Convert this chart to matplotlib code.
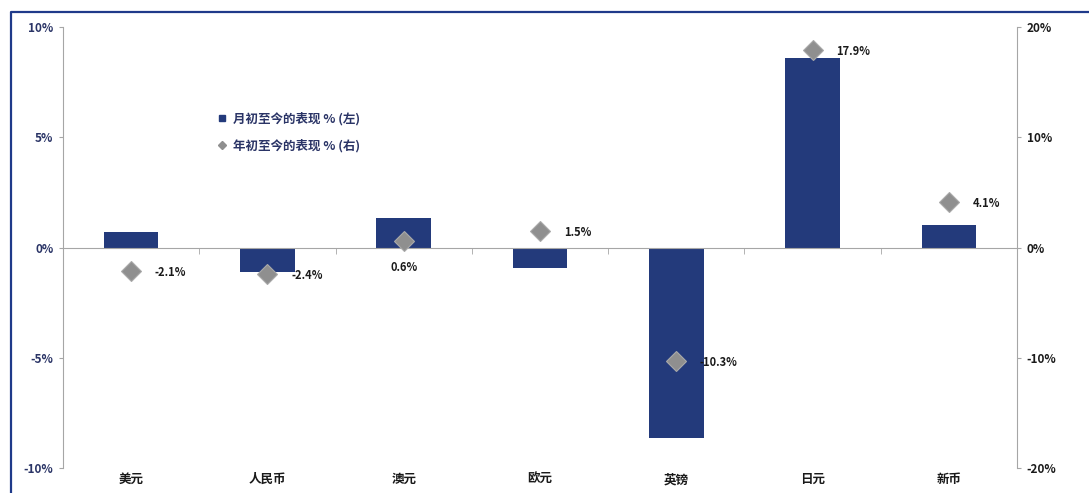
import numpy as np
import matplotlib.pyplot as plt
from matplotlib.lines import Line2D

plt.rcParams['font.family'] = ['Noto Sans CJK SC', 'DejaVu Sans']

# 货币表现数据
currencies = ['美元', '人民币', '澳元', '欧元', '英镑', '日元', '新币']
mtd = [0.7, -1.1, 1.35, -0.95, -8.65, 8.6, 1.0]      # 月初至今 (%)，左轴
ytd = [-2.1, -2.4, 0.6, 1.5, -10.3, 17.9, 4.1]       # 年初至今 (%)，右轴
ytd_labels = ['-2.1%', '-2.4%', '0.6%', '1.5%', '-10.3%', '17.9%', '4.1%']

navy = '#233a7b'
grey = '#8f8f8f'
axis_grey = '#a6a6a6'

fig = plt.figure(figsize=(10.89, 4.93), dpi=100)
ax = fig.add_axes([0.0579, 0.0507, 0.876, 0.8945])
ax2 = ax.twinx()

x = np.arange(len(currencies))
ax.bar(x, mtd, width=0.4, color=navy, zorder=2)
ax.set_xlim(-0.5, len(currencies) - 0.5)
ax.set_ylim(-10, 10)
ax.set_yticks([-10, -5, 0, 5, 10])
ax.set_yticklabels(['%d%%' % v for v in [-10, -5, 0, 5, 10]])

ax2.set_ylim(-20, 20)
ax2.set_yticks([-20, -10, 0, 10, 20])
ax2.set_yticklabels(['%d%%' % v for v in [-20, -10, 0, 10, 20]])
ax2.plot(x, ytd, linestyle='none', marker='D', markersize=10.5,
         markerfacecolor=grey, markeredgecolor='#a9a9a9', markeredgewidth=0.8, zorder=3)

# 数值标签：澳元放在菱形下方，其余放在右侧
for i, (v, s) in enumerate(zip(ytd, ytd_labels)):
    if currencies[i] == '澳元':
        ax2.annotate(s, (i, v), xytext=(0, -19), textcoords='offset points',
                     ha='center', va='center', fontsize=8, fontweight='bold', color='#1a1a1a')
    else:
        ax2.annotate(s, (i, v), xytext=(17, -1), textcoords='offset points',
                     ha='left', va='center', fontsize=8, fontweight='bold', color='#1a1a1a')

for a in (ax, ax2):
    a.spines['top'].set_visible(False)
    a.spines['left'].set_color(axis_grey)
    a.spines['right'].set_color(axis_grey)
ax2.spines['left'].set_visible(False)
ax2.spines['bottom'].set_visible(False)
ax.spines['right'].set_visible(False)

ax.tick_params(axis='y', length=3, color=axis_grey, labelsize=8.5, labelcolor='#2a3466', pad=4)
ax2.tick_params(axis='y', length=3, color=axis_grey, labelsize=8.5, labelcolor='#1a1a1a', pad=4)
for lab in ax.get_yticklabels() + ax2.get_yticklabels():
    lab.set_fontweight('bold')

# 横轴放在零线上，类别之间有分隔刻度
ax.spines['bottom'].set_position(('data', 0))
ax.spines['bottom'].set_color(axis_grey)
ax.set_xticks(x)
ax.set_xticklabels([])
ax.tick_params(axis='x', which='major', length=0)
ax.set_xticks(np.arange(len(currencies) + 1) - 0.5, minor=True)
ax.tick_params(axis='x', which='minor', length=4, color=axis_grey, direction='out')

# 类别名称放在图表底部
for i, name in enumerate(currencies):
    ax.text(i, 0, name, transform=ax.get_xaxis_transform(), ha='center', va='top',
            fontsize=9, fontweight='bold', color='#1a1a1a')
for t in ax.texts:
    t.set_y(-0.012)

legend_handles = [
    Line2D([], [], linestyle='none', marker='s', markersize=5, color=navy),
    Line2D([], [], linestyle='none', marker='D', markersize=4.5, color=grey),
]
ax.legend(legend_handles, ['月初至今的表现 % (左)', '年初至今的表现 % (右)'],
          loc='upper left', bbox_to_anchor=(212 / 1089, 1 - 106 / 493),
          bbox_transform=fig.transFigure, frameon=False, handlelength=0.6,
          handletextpad=0.55, labelspacing=1.05, borderpad=0,
          prop={'size': 9, 'weight': 'bold'}, labelcolor='#2a3466')

# 外框（左侧与顶部）
fig.add_artist(Line2D([10.5 / 1089, 10.5 / 1089, 1.0], [0.0, 1 - 12 / 493, 1 - 12 / 493],
                      transform=fig.transFigure, color='#1f3a8a', linewidth=1.6))

fig.savefig('out.png', dpi=100)
